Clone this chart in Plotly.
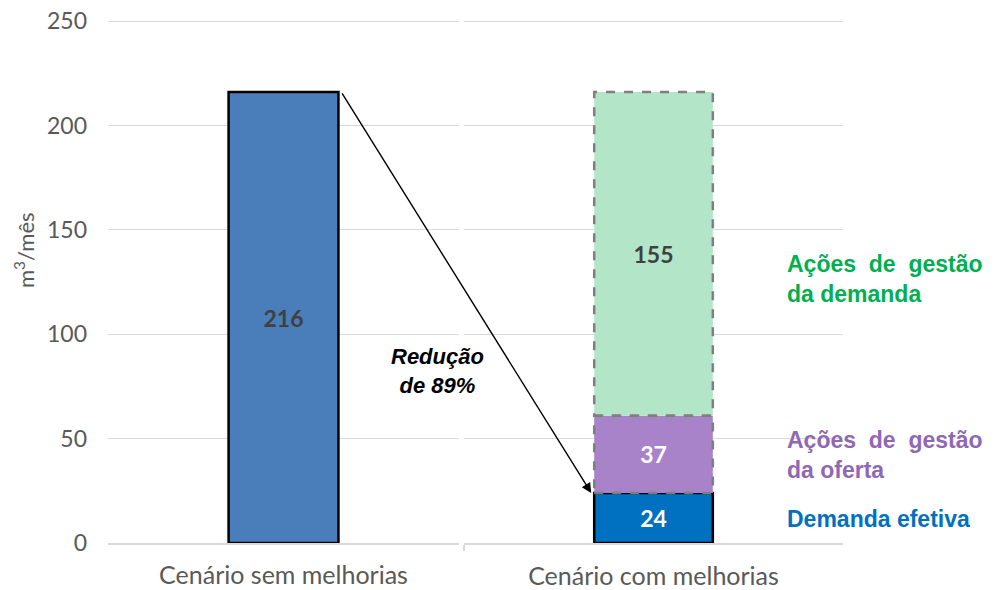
import plotly.graph_objects as go

# ---- data ----
cat_left = ["Cenário sem melhorias"]
cat_right = ["Cenário com melhorias"]
total_sem = [216]
seg_names = ["Demanda efetiva", "Ações de gestão da oferta", "Ações de gestão da demanda"]
seg_values = [24, 37, 155]
reduction_label = "Redução<br>de 89%"
y_ticks = [0, 50, 100, 150, 200, 250]

# ---- styles ----
W = 0.313
c_left = "#4A7EBB"
seg_fill = ["#0070C0", "#A983C9", "#B3E6C8"]
seg_text = ["white", "white", "#404040"]
lbl_colors = ["#0070C0", "#8E68B4", "#00B050"]
grid = "#D9D9D9"
tickc = "#595959"
xtickfont = dict(family="Lato, Open Sans, sans-serif", size=25, color=tickc)
ytickfont = dict(family="Lato, Open Sans, sans-serif", size=23, color=tickc)
lblfont_bold = "Liberation Sans, Arial, sans-serif"

fig = go.Figure()

fig.add_trace(go.Bar(
    x=cat_left, y=total_sem, width=W, xaxis="x", yaxis="y",
    marker=dict(color=c_left, line=dict(color="black", width=2.5)),
    text=[str(v) for v in total_sem], textposition="inside", insidetextanchor="middle",
    textfont=dict(family="Lato, sans-serif", size=23, color="#404040", weight="bold"),
    showlegend=False, hoverinfo="skip"))

bases = []
acc = 0
for v in seg_values:
    bases.append(acc)
    acc += v

for i, (nm, v) in enumerate(zip(seg_names, seg_values)):
    line = dict(color="black", width=2.5) if i == 0 else dict(width=0)
    fig.add_trace(go.Bar(
        x=cat_right, y=[v], base=[bases[i]], width=W, xaxis="x2", yaxis="y2",
        name=nm, marker=dict(color=seg_fill[i], line=line),
        text=[str(v)], textposition="inside", insidetextanchor="middle",
        textfont=dict(family="Lato, sans-serif", size=23, color=seg_text[i], weight="bold"),
        showlegend=False, hoverinfo="skip", constraintext="none"))

# dashed borders for the upper segments
for i in (1, 2):
    fig.add_shape(type="rect", xref="x2", yref="y2",
                  x0=-W / 2, x1=W / 2, y0=bases[i], y1=bases[i] + seg_values[i],
                  line=dict(color="#7F7F7F", width=2.5, dash="dash"), layer="above")

fig.update_layout(
    width=995, height=590,
    margin=dict(l=108, r=152, t=20, b=47, autoexpand=False),
    paper_bgcolor="white", plot_bgcolor="white",
    barmode="overlay",
    xaxis=dict(domain=[0, 0.4776], range=[-0.5, 0.5], type="category", automargin=False,
               showline=True, linecolor=grid, linewidth=1.5, ticks="",
               tickfont=xtickfont, showgrid=False, ticklabelstandoff=9),
    xaxis2=dict(domain=[0.4844, 1], range=[-0.5, 0.5], type="category", anchor="y2",
                automargin=False,
                showline=True, linecolor=grid, linewidth=1.5, ticks="outside",
                tickson="boundaries", ticklen=6, tickcolor=grid, tickwidth=1.5,
                tickfont=xtickfont, showgrid=False, ticklabelstandoff=10),
    yaxis=dict(range=[0, 250.5], tickvals=y_ticks, showgrid=True, gridcolor=grid,
               automargin=False, ticklabeloverflow="allow",
               gridwidth=1, zeroline=False, showline=False, tickfont=ytickfont,
               ticklabelstandoff=20),
    yaxis2=dict(range=[0, 250.5], tickvals=y_ticks, showgrid=True, gridcolor=grid,
                automargin=False,
                gridwidth=1, zeroline=False, showline=False, showticklabels=False,
                anchor="x2", matches="y"),
)

# arrow from left bar top to stacked bar base
fig.add_annotation(x=-W / 2 - 0.008, y=seg_values[0], xref="x2", yref="y2",
                   ax=-250, ay=-401, axref="pixel", ayref="pixel",
                   showarrow=True, arrowhead=2, arrowsize=1.4, arrowwidth=1.4,
                   arrowcolor="black", text="", standoff=0)

fig.add_annotation(x=(437 - 108) / 735, y=(543 - 371) / 523, xref="paper", yref="paper",
                   text="<b><i>" + reduction_label + "</i></b>", showarrow=False,
                   font=dict(family=lblfont_bold, size=22, color="black"),
                   align="center", xanchor="center", yanchor="middle")

# y-axis title
fig.add_annotation(x=(24 - 108) / 735, y=(543 - 250) / 523, xref="paper", yref="paper",
                   text="m<sup>3</sup>/mês", textangle=-90, showarrow=False,
                   font=dict(family="Lato, sans-serif", size=22, color=tickc),
                   xanchor="center", yanchor="middle")

sp = "&nbsp;&nbsp;"
right_labels = [
    "<b>Demanda efetiva</b>",
    "<b>Ações" + sp + "de" + sp + "gestão<br>da oferta</b>",
    "<b>Ações" + sp + "de" + sp + "gestão<br>da demanda</b>",
]
label_y_px = [519, 455.5, 279]
for i in range(3):
    fig.add_annotation(x=(785 - 108) / 735, y=(543 - label_y_px[i]) / 523,
                       xref="paper", yref="paper", text=right_labels[i],
                       showarrow=False, align="left", xanchor="left", yanchor="middle",
                       font=dict(family=lblfont_bold, size=23, color=lbl_colors[i]))

fig.write_html("out.html", config={"displayModeBar": False},
               post_script="document.body.style.margin='0';document.body.style.overflow='hidden';")
